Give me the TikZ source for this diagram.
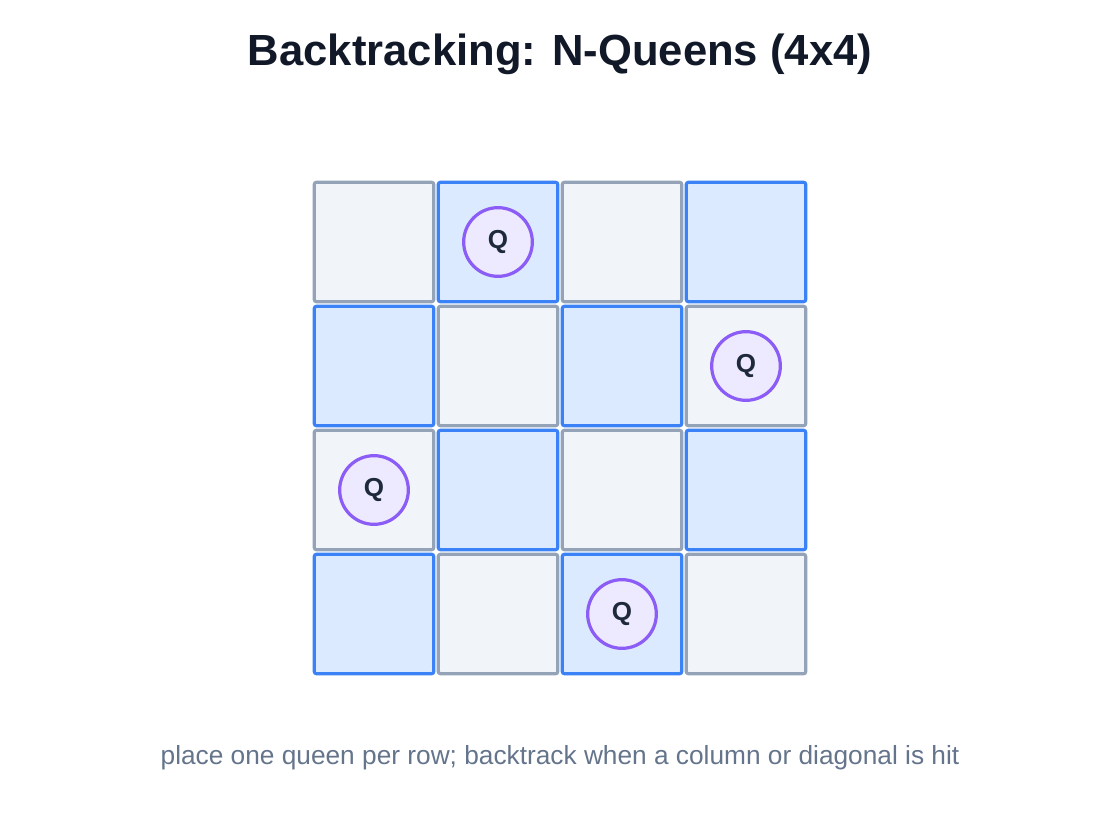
\documentclass[tikz,border=0pt]{standalone}
\usepackage{fontspec}
\setmainfont{Liberation Sans}
\usepackage{tikz}
\definecolor{titleink}{RGB}{17,24,39}
\definecolor{noteink}{RGB}{100,116,139}
\definecolor{greyfill}{RGB}{241,245,249}
\definecolor{greyline}{RGB}{148,163,184}
\definecolor{bluefill}{RGB}{219,234,254}
\definecolor{blueline}{RGB}{59,130,246}
\definecolor{queenfill}{RGB}{237,233,254}
\definecolor{queenline}{RGB}{139,92,246}
\definecolor{queenink}{RGB}{30,41,59}

\begin{document}
\begin{tikzpicture}[x=0.75pt,y=-0.75pt,
    cell/.style={minimum size=89.5pt,inner sep=0pt,line width=2.4pt,rounded corners=1.5pt},
    greycell/.style={cell,draw=greyline,fill=greyfill},
    bluecell/.style={cell,draw=blueline,fill=bluefill},
    queen/.style={circle,minimum size=51.5pt,inner sep=0pt,line width=2.4pt,
      draw=queenline,fill=queenfill,text=queenink,font=\bfseries\fontsize{19.5}{22}\selectfont}]
    \useasboundingbox (0,0) rectangle (1120,816);
    % labels
    \node[text=titleink,font=\bfseries\fontsize{32.7}{36}\selectfont] (title) at (560,54) {Backtracking: N-Queens (4x4)};
    \node[text=noteink,font=\fontsize{19.7}{23}\selectfont] (note) at (560,758) {place one queen per row; backtrack when a column or diagonal is hit};
    % loop over the board
    \foreach \r in {0,...,3}
      \foreach \c in {0,...,3}{
        \pgfmathtruncatemacro{\odd}{mod(\r+\c,2)}
        % blue when row + column is odd
        \ifnum \odd = 1
          \node[bluecell] (cell\r\c) at (374+124*\c,242+124*\r) {};
        \else
          \node[greycell] (cell\r\c) at (374+124*\c,242+124*\r) {};
        \fi
      };
    % queens, one per row
    \foreach \r/\c in {0/1,1/3,2/0,3/2}
      \node[queen] (queen\r) at (cell\r\c) {Q};
\end{tikzpicture}
\end{document}
